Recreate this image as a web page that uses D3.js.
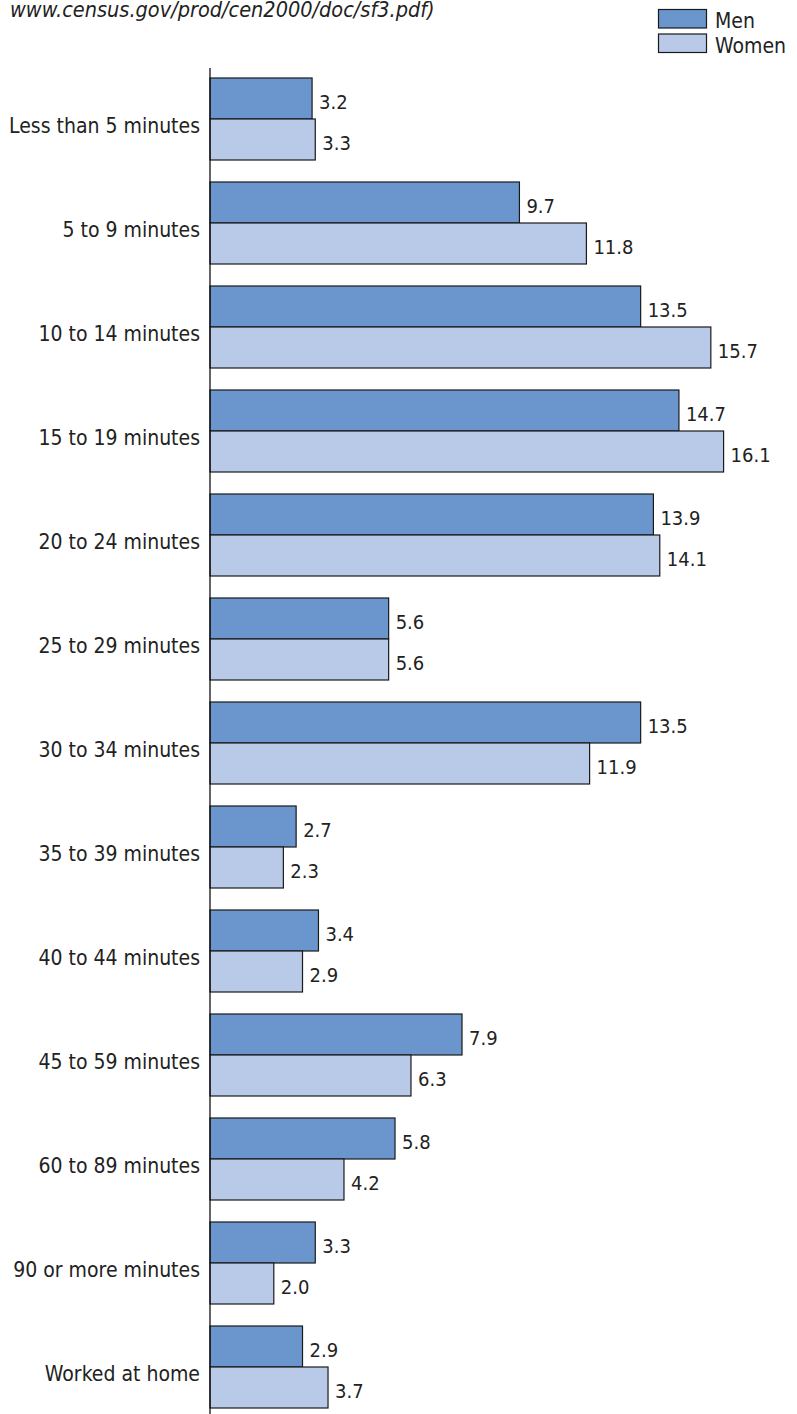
<!DOCTYPE html>
<html><head><meta charset="utf-8">
<script src="https://cdn.jsdelivr.net/npm/d3@7"></script>
<style>body{margin:0;background:#fff;} svg{display:block;}</style>
</head><body>
<svg id="c" width="797" height="1414"></svg>
<script>
const categories = ["Less than 5 minutes","5 to 9 minutes","10 to 14 minutes","15 to 19 minutes","20 to 24 minutes","25 to 29 minutes","30 to 34 minutes","35 to 39 minutes","40 to 44 minutes","45 to 59 minutes","60 to 89 minutes","90 or more minutes","Worked at home"];
const series = ["Men","Women"];
const menValues = [3.2,9.7,13.5,14.7,13.9,5.6,13.5,2.7,3.4,7.9,5.8,3.3,2.9];
const womenValues = [3.3,11.8,15.7,16.1,14.1,5.6,11.9,2.3,2.9,6.3,4.2,2.0,3.7];
const colors = ["#6a96cd","#b9c9e8"];
const sourceText = "www.census.gov/prod/cen2000/doc/sf3.pdf)";

const svg = d3.select("#c");
const font = "'DejaVu Sans Condensed', 'DejaVu Sans', sans-serif";
const fsLabel = 21, fsValue = 20;
const x = d3.scaleLinear().domain([0,20]).range([210, 210+20*31.9]);
const y = d3.scaleBand().domain(categories).range([67,1419]).paddingInner(22/104).paddingOuter(11/104);
const ySub = d3.scaleBand().domain(series).range([0,y.bandwidth()]);
const vals = [menValues, womenValues];

svg.append("text").attr("x",10).attr("y",17).attr("font-family",font).attr("font-style","italic")
  .attr("font-stretch","condensed").attr("font-size",21.5).attr("fill","#222").text(sourceText);

const g = svg.append("g");
categories.forEach((c,i)=>{
  series.forEach((s,j)=>{
    const v = vals[j][i];
    g.append("rect").attr("x",x(0)).attr("y",y(c)+ySub(s)).attr("width",x(v)-x(0)).attr("height",ySub.bandwidth())
      .attr("fill",colors[j]).attr("stroke","#1a1a1a").attr("stroke-width",1.2);
    g.append("text").attr("x",x(v)+7).attr("y",y(c)+ySub(s)+ySub.bandwidth()/2+10.5)
      .attr("font-family",font).attr("font-stretch","condensed").attr("font-size",fsValue).attr("fill","#222").text(v.toFixed(1));
  });
  g.append("text").attr("x",200).attr("y",y(c)+y.bandwidth()/2+14).attr("text-anchor","end")
    .attr("font-family",font).attr("font-stretch","condensed").attr("font-size",fsLabel).attr("fill","#222").text(c);
});

svg.append("line").attr("x1",x(0)).attr("x2",x(0)).attr("y1",68).attr("y2",1414).attr("stroke","#111").attr("stroke-width",1.3);

const leg = svg.append("g");
series.forEach((s,j)=>{
  leg.append("rect").attr("x",658.5).attr("y",9.5+j*24.5).attr("width",48).attr("height",18.5)
    .attr("fill",colors[j]).attr("stroke","#1a1a1a").attr("stroke-width",1.2);
  leg.append("text").attr("x",715).attr("y",28+j*24.5).attr("font-family",font).attr("font-stretch","condensed")
    .attr("font-size",fsLabel).attr("fill","#222").text(s);
});
</script>
</body></html>
